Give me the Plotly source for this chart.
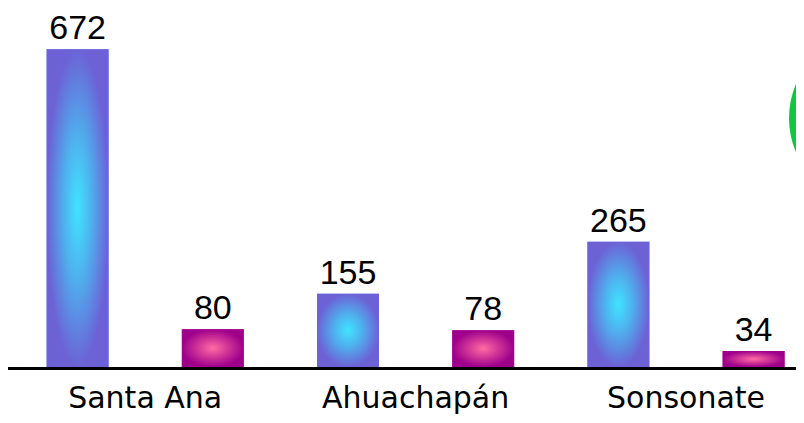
import plotly.graph_objects as go

categories = ["Santa Ana", "Ahuachapán", "Sonsonate"]
series_a = [672, 155, 265]
series_b = [80, 78, 34]

# style
blue_scale = [[0.0, "#40e4ff"], [0.45, "#4fb0ee"], [1.0, "#6c62d6"]]
mag_scale = [[0.0, "#ff6ca2"], [0.45, "#d53a98"], [1.0, "#9e008c"]]
bar_w = 0.229
half_gap = 0.25
positions = list(range(len(categories)))

fig = go.Figure()


def add_series(values, shift, scale, solid):
    xs = [p + shift for p in positions]
    fig.add_trace(go.Bar(
        x=xs, y=values, width=bar_w,
        marker=dict(color=solid, line=dict(width=0)),
        text=[str(v) for v in values], textposition="outside",
        textfont=dict(family="Liberation Sans, Arial, sans-serif", size=34, color="black"),
        constraintext="none", cliponaxis=False,
        showlegend=False, hoverinfo="skip",
    ))
    # radial-gradient face of each bar, built from the same values
    for x, v in zip(xs, values):
        l, r = x - bar_w / 2, x + bar_w / 2
        fig.add_trace(go.Scatter(
            x=[l, r, r, l, l], y=[0, 0, v, v, 0],
            mode="lines", line=dict(width=0),
            fill="toself",
            fillgradient=dict(type="radial", colorscale=scale),
            showlegend=False, hoverinfo="skip",
        ))


add_series(series_a, -half_gap, blue_scale, "#5a8ee6")
add_series(series_b, half_gap, mag_scale, "#c0208f")

fig.update_layout(
    width=788, height=407,
    margin=dict(l=0, r=0, t=12, b=41),
    plot_bgcolor="white", paper_bgcolor="white",
    xaxis=dict(
        range=[-0.5074, 2.4068],
        tickvals=positions, ticktext=categories,
        showline=True, linecolor="black", linewidth=3,
        showgrid=False, zeroline=False, ticks="",
        ticklabelstandoff=2,
        tickfont=dict(family="DejaVu Sans, sans-serif", size=30, color="black"),
        fixedrange=True,
    ),
    yaxis=dict(range=[0, 734], visible=False, fixedrange=True),
    shapes=[dict(type="circle", xref="paper", yref="paper",
                 x0=781 / 788, x1=963 / 788,
                 y0=0.4605, y1=0.9745,
                 fillcolor="#12c43e", line=dict(width=0))],
)

fig.write_html("out.html")
